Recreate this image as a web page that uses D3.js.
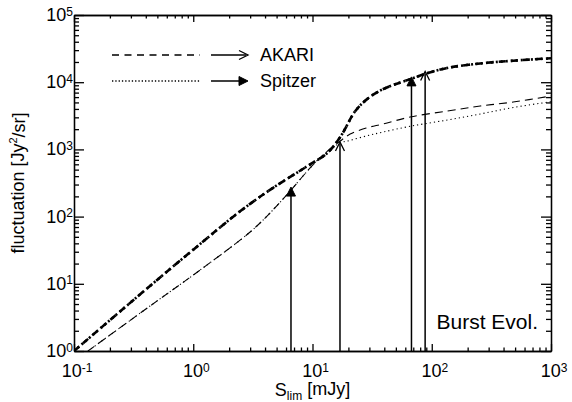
<!DOCTYPE html>
<html>
<head>
<meta charset="utf-8">
<script src="https://cdn.jsdelivr.net/npm/d3@7"></script>
<style>
  body { margin: 0; background: #fff; }
  text { font-family: "Liberation Sans", Arial, Helvetica, sans-serif; fill: #000; }
</style>
</head>
<body>
<div id="chart"></div>
<script>
// flux limit S_lim [mJy] and fluctuation [Jy^2/sr]
var sThick = [0.1, 0.434, 1.14, 2.47, 4.67, 9.0, 13.3, 17.1, 22.8, 28.7, 36.9, 49.3, 67.2, 88, 135, 255, 482, 1000];
var fThickAkari = [1, 9.3, 39, 120, 268, 560, 884, 1530, 3700, 5600, 7500, 9300, 11200, 13300, 16300, 19000, 20900, 22700];
var fThickSpitzer = [1, 9.3, 39, 120, 268, 560, 884, 1530, 3700, 5600, 7500, 9300, 11200, 13300, 16300, 19000, 20900, 22700];

var sThin = [0.131, 0.434, 1.14, 3.0, 4.4, 6.49, 9.55, 12.8, 17.1, 20.7, 28.2, 39.1, 65.9, 135, 255, 482, 1000];
var fThinAkari = [1, 4.67, 16.0, 59, 113, 240, 529, 884, 1333, 1694, 2080, 2390, 3035, 3725, 4420, 5070, 6235];
var fThinSpitzer = [1, 4.67, 16.0, 59, 113, 240, 529, 884, 1245, 1365, 1582, 1815, 2207, 2738, 3365, 4200, 5130];

// vertical arrows: flux limit and the fluctuation they point to
var arrowS = [6.6, 17, 67.6, 88];
var arrowF = [275, 1290, 12000, 14400];
var arrowKind = ["Spitzer", "AKARI", "Spitzer", "AKARI"];

var legendNames = ["AKARI", "Spitzer"];
var xMajor = [0.1, 1, 10, 100, 1000];
var yMajor = [1, 10, 100, 1000, 10000, 100000];
var panelLabel = "Burst Evol.";

var W = 572, H = 402;
var margin = {left: 74, right: 21, top: 15, bottom: 51};

var svg = d3.select("#chart").append("svg")
  .attr("width", W).attr("height", H);

var x = d3.scaleLog().domain([0.1, 1000]).range([margin.left, W - margin.right]);
var y = d3.scaleLog().domain([1, 1e5]).range([H - margin.bottom, margin.top]);

function minors(majors) {
  var out = [];
  majors.slice(0, -1).forEach(function(m) {
    for (var k = 2; k <= 9; k++) out.push(m * k);
  });
  return out;
}

svg.append("defs").append("clipPath").attr("id", "clip")
  .append("rect")
  .attr("x", x.range()[0]).attr("y", y.range()[1])
  .attr("width", x.range()[1] - x.range()[0])
  .attr("height", y.range()[0] - y.range()[1]);

// axes, ticks pointing inward on all four sides
function addAxis(axisFn, scale, majors, len, tr) {
  var g1 = svg.append("g").attr("transform", tr)
    .call(axisFn(scale).tickValues(majors).tickSize(len).tickSizeOuter(0).tickFormat(""));
  var g2 = svg.append("g").attr("transform", tr)
    .call(axisFn(scale).tickValues(minors(majors)).tickSize(len / 2).tickSizeOuter(0).tickFormat(""));
  [g1, g2].forEach(function(g) {
    g.selectAll("path,line").attr("stroke", "#000").attr("stroke-width", 1.3);
  });
}
addAxis(d3.axisBottom, x, xMajor, -7, "translate(0," + y.range()[0] + ")");
addAxis(d3.axisTop, x, xMajor, -7, "translate(0," + y.range()[1] + ")");
addAxis(d3.axisLeft, y, yMajor, -10, "translate(" + x.range()[0] + ",0)");
addAxis(d3.axisRight, y, yMajor, -10, "translate(" + x.range()[1] + ",0)");

// tick labels as 10^n
function powLabel(sel) {
  sel.append("tspan").text("10");
  sel.append("tspan").attr("dy", "-0.45em").attr("font-size", "12px")
    .text(function(d) { return Math.round(Math.log10(d)); });
}
svg.append("g").selectAll("text").data(xMajor).enter().append("text")
  .attr("x", function(d) { return x(d) + 3; })
  .attr("y", y.range()[0] + 26)
  .attr("text-anchor", "middle")
  .attr("font-size", "18px")
  .call(powLabel);
svg.append("g").selectAll("text").data(yMajor).enter().append("text")
  .attr("x", x.range()[0] - 1)
  .attr("y", function(d) { return y(d) + 6; })
  .attr("text-anchor", "end")
  .attr("font-size", "18px")
  .call(powLabel);

// axis titles
var xt = svg.append("text")
  .attr("x", (x.range()[0] + x.range()[1]) / 2)
  .attr("y", H - 6)
  .attr("text-anchor", "middle")
  .attr("font-size", "18px");
xt.append("tspan").text("S");
xt.append("tspan").attr("font-size", "12px").attr("dy", "0.3em").text("lim");
xt.append("tspan").attr("dy", "-0.25em").text(" [mJy]");

var yt = svg.append("text")
  .attr("transform", "translate(24," + (y.range()[0] + y.range()[1]) / 2 + ") rotate(-90)")
  .attr("text-anchor", "middle")
  .attr("font-size", "18px");
yt.append("tspan").text("fluctuation [Jy");
yt.append("tspan").attr("font-size", "11px").attr("dy", "-0.6em").text("2");
yt.append("tspan").attr("dy", "0.4em").text("/sr]");

// curves
var line = d3.line()
  .x(function(d) { return x(d[0]); })
  .y(function(d) { return y(d[1]); })
  .curve(d3.curveCatmullRom.alpha(0.5));

var curves = [
  {s: sThin, f: fThinAkari, w: 1.1, dash: "8,5"},
  {s: sThin, f: fThinSpitzer, w: 1.1, dash: "1.2,3"},
  {s: sThick, f: fThickAkari, w: 2.6, dash: "7,5"},
  {s: sThick, f: fThickSpitzer, w: 2.6, dash: "2,3"}
];
var plot = svg.append("g").attr("clip-path", "url(#clip)");
plot.selectAll("path.curve").data(curves).enter().append("path")
  .attr("class", "curve")
  .attr("fill", "none")
  .attr("stroke", "#000")
  .attr("stroke-width", function(d) { return d.w; })
  .attr("stroke-dasharray", function(d) { return d.dash; })
  .attr("d", function(d) { return line(d.s.map(function(v, i) { return [v, d.f[i]]; })); });

// arrow heads: open for AKARI, filled for Spitzer
function arrowHead(g, tx, ty, dir, kind) {
  var a = 9, b = 4.5;
  var pts = dir === "up"
    ? [[tx - b, ty + a], [tx, ty], [tx + b, ty + a]]
    : [[tx - a, ty - b], [tx, ty], [tx - a, ty + b]];
  if (kind === "AKARI") {
    g.append("path").attr("d", d3.line()(pts))
      .attr("fill", "none").attr("stroke", "#000").attr("stroke-width", 1.3);
  } else {
    g.append("path").attr("d", d3.line()(pts) + "Z")
      .attr("fill", "#000").attr("stroke", "#000").attr("stroke-width", 1);
  }
}

var arrows = svg.append("g");
arrowS.forEach(function(s, i) {
  var tx = x(s), ty = y(arrowF[i]);
  arrows.append("line")
    .attr("x1", tx).attr("x2", tx)
    .attr("y1", y.range()[0]).attr("y2", ty + 2)
    .attr("stroke", "#000").attr("stroke-width", 1.5);
  arrowHead(arrows, tx, ty, "up", arrowKind[i]);
});

// legend
var legend = svg.append("g");
legendNames.forEach(function(name, i) {
  var ly = 55 + i * 26;
  legend.append("line")
    .attr("x1", 112).attr("x2", 200).attr("y1", ly).attr("y2", ly)
    .attr("stroke", "#000").attr("stroke-width", 1.3)
    .attr("stroke-dasharray", name === "AKARI" ? "7,5.5" : "1.3,2");
  legend.append("line")
    .attr("x1", 211).attr("x2", 246).attr("y1", ly).attr("y2", ly)
    .attr("stroke", "#000").attr("stroke-width", 1.3);
  arrowHead(legend, 248, ly, "right", name);
  legend.append("text")
    .attr("x", 260).attr("y", ly + 6)
    .attr("font-size", "18px")
    .text(name);
});

svg.append("text")
  .attr("x", x.range()[1] - 13).attr("y", 329)
  .attr("text-anchor", "end")
  .attr("font-size", "21px")
  .text(panelLabel);
</script>
</body>
</html>
